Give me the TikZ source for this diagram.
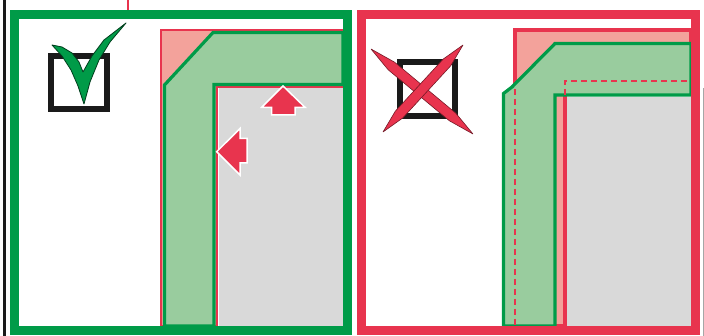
\documentclass[tikz,border=0pt]{standalone}
\definecolor{dgreen}{HTML}{009B48}
\definecolor{lgreen}{HTML}{99CC9E}
\definecolor{rred}{HTML}{E8344E}
\definecolor{pinkf}{HTML}{F3A29B}
\definecolor{grayf}{HTML}{D9D9D9}
\definecolor{blk}{HTML}{1A1A1A}
\tikzset{
  frameline/.style={line width=9pt},
  bandstyle/.style={fill=lgreen, draw=dgreen, line width=3.2pt, line join=miter},
  redL/.style={fill=pinkf, draw=rred, line join=miter},
  grayarea/.style={fill=grayf},
  bigarrow/.style={fill=rred, draw=white, line width=1.5pt, line join=miter},
  dashred/.style={draw=rred, line width=2pt, dash pattern=on 6pt off 4pt},
  boxline/.style={draw=blk, line width=6pt},
  crossstroke/.style={fill=rred, draw=black!50!rred, line width=0.6pt, line join=round},
}
\begin{document}
\begin{tikzpicture}[x=1pt,y=-1pt]
\useasboundingbox (0,0) rectangle (704,336);
% thin edge lines
\draw[blk, line width=2.5pt] (4.5,0) -- (4.5,336);
\draw[rred, line width=1.2pt] (128,0) -- (128,12);
\draw[gray!70, line width=1pt] (703,88) -- (703,336);

% ---------- left panel ----------
\path[redL, line width=2pt] (161,30) -- (343,30) -- (343,87) -- (217,87) -- (217,326) -- (161,326) -- cycle;
\path[bandstyle] (164.5,326) -- (164.5,85) -- (213,32.5) -- (343,32.5) -- (343,84.5) -- (214,84.5) -- (214,326) -- cycle;
\fill[grayarea] (218.5,88) rectangle (343,326);
\path[bigarrow] (283,86) -- (305,107.3) -- (295,107.3) -- (295,115) -- (271.7,115) -- (271.7,107.3) -- (261.7,107.3) -- cycle;
\path[bigarrow] (216.7,151.7) -- (240,128.5) -- (240,138.5) -- (247,138.5) -- (247,163) -- (240,163) -- (240,175) -- cycle;
% checkbox with tick
\draw[boxline] (51,56) rectangle (107,109);
\filldraw[fill=dgreen, draw=black!60!dgreen, line width=0.8pt, line join=round]
  (52,45) -- (62,47) -- (72,53) -- (79,62) -- (83,72) -- (92,56) -- (104,40) -- (126,23)
  -- (110,42) -- (99,60) -- (90,82) -- (84,104) -- (78,86) -- (71,70) -- (62,56) -- cycle;
\draw[dgreen, frameline] (14.5,14.5) rectangle (347.5,330.5);

% ---------- right panel ----------
\path[redL, line width=4pt] (515,30) -- (691,30) -- (691,81) -- (565,81) -- (565,326) -- (515,326) -- cycle;
\path[bandstyle] (503.5,326) -- (503.5,93.5) -- (512,87) -- (555,43.5) -- (691,43.5) -- (691,95) -- (555,95) -- (555,326) -- cycle;
\draw[dashred] (515,89) -- (515,326);
\draw[dashred] (565,95) -- (565,81) -- (691,81);
\fill[grayarea] (567,97.5) rectangle (691,326);
% crossed box
\draw[boxline] (400,62) rectangle (455,116);
\path[crossstroke] (371,49) -- (394.6,62.2) -- (455.8,113.2) -- (473,134) -- (449.4,120.8) -- (388.2,69.8) -- cycle;
\path[crossstroke] (463,45) -- (450.7,65.8) -- (402.7,118) -- (383,132) -- (395.3,111.2) -- (443.3,59) -- cycle;
\draw[rred, frameline] (361.5,14.5) rectangle (695.5,330.5);
\end{tikzpicture}
\end{document}
